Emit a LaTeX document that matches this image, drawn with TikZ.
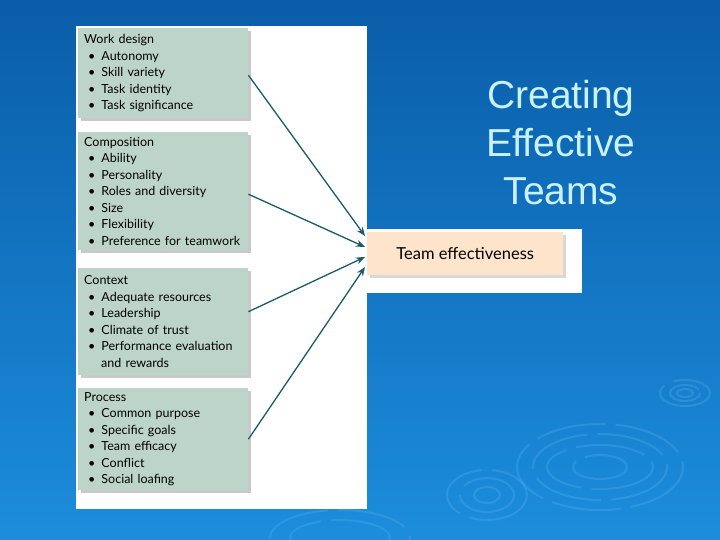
\documentclass[tikz,border=0pt]{standalone}
\usepackage{fontspec}
\setmainfont{Liberation Sans}
\newfontfamily\boxfont{Lato}
\usetikzlibrary{shadows,arrows.meta}
\definecolor{bgtop}{HTML}{0A5DA8}
\definecolor{bgbot}{HTML}{1C8DDC}
\definecolor{ripple}{HTML}{5BB8F5}
\definecolor{boxgreen}{HTML}{BDD4CB}
\definecolor{peach}{HTML}{FDE4CA}
\definecolor{teal}{HTML}{1B5A6A}
\definecolor{titlecol}{HTML}{C8F2FF}
\tikzset{
  factor/.style={draw=none, fill=boxgreen, anchor=north west, align=left,
    inner xsep=6pt, inner ysep=3pt, text width=158pt, font=\boxfont\fontsize{12.5}{16.5}\selectfont,
    drop shadow={shadow xshift=3pt, shadow yshift=-3pt, opacity=0.35, fill=black!60}},
  outcome/.style={draw=none, fill=peach, font=\boxfont\fontsize{16.5}{18}\selectfont,
    drop shadow={shadow xshift=3pt, shadow yshift=-3pt, opacity=0.3, fill=black!50}},
  link/.style={draw=teal, line width=1.3pt, -{Stealth[length=9pt,width=7pt]}},
  ring/.style={draw=ripple, opacity=0.28, line width=2pt, dash pattern=on 70pt off 10pt}
}
\newcommand{\itm}[1]{\hspace*{4pt}\textbullet\hspace{6pt}#1}
\begin{document}
\begin{tikzpicture}[x=1pt,y=-1pt]
\useasboundingbox (0,0) rectangle (720,540);
\shade[top color=bgtop, bottom color=bgbot] (0,0) rectangle (720,540);
% ripples
\foreach \rx/\ry in {25/13,15/8,8/4} \draw[ring] (685,393) ellipse [x radius=\rx, y radius=\ry];
\foreach \rx/\ry in {83/43,67/33,53/22,27/12} \draw[ring] (600,467) ellipse [x radius=\rx, y radius=\ry];
\foreach \rx/\ry in {40/25,27/17,13/8} \draw[ring] (487,495) ellipse [x radius=\rx, y radius=\ry];
\foreach \rx/\ry in {70/28,50/18} \draw[ring] (340,538) ellipse [x radius=\rx, y radius=\ry];
% white panels
\fill[white] (76,26) rectangle (367,509);
\fill[white] (367,229) rectangle (582,293);
% title
\node[text=titlecol, font=\fontsize{39}{48}\selectfont, align=center] (title) at (561,143)
  {Creating\\Effective\\Teams};
% factor boxes
\node[factor, minimum height=90pt] (wd) at (78,28)
  {Work design\\\itm{Autonomy}\\\itm{Skill variety}\\\itm{Task identity}\\\itm{Task significance}};
\node[factor, minimum height=118pt] (co) at (78,132)
  {Composition\\\itm{Ability}\\\itm{Personality}\\\itm{Roles and diversity}\\\itm{Size}\\\itm{Flexibility}\\\itm{Preference for teamwork}};
\node[factor, minimum height=107pt] (cx) at (78,268)
  {Context\\\itm{Adequate resources}\\\itm{Leadership}\\\itm{Climate of trust}\\\itm{Performance evaluation}\\\hspace*{17pt}and rewards};
\node[factor, minimum height=102pt] (pr) at (78,388)
  {Process\\\itm{Common purpose}\\\itm{Specific goals}\\\itm{Team efficacy}\\\itm{Conflict}\\\itm{Social loafing}};
% outcome
\node[outcome, minimum width=196pt, minimum height=43pt, anchor=north west] (te) at (367,232) {Team effectiveness};
\coordinate (e1) at (365,236);
\coordinate (e2) at (365,247);
\coordinate (e3) at (365,257);
\coordinate (e4) at (365,267);
\draw[link] ([yshift=-2pt]wd.east) -- (e1);
\draw[link] ([yshift=-3pt]co.east) -- (e2);
\draw[link] ([yshift=10pt]cx.east) -- (e3);
\draw[link] (pr.east) -- (e4);
\end{tikzpicture}
\end{document}
